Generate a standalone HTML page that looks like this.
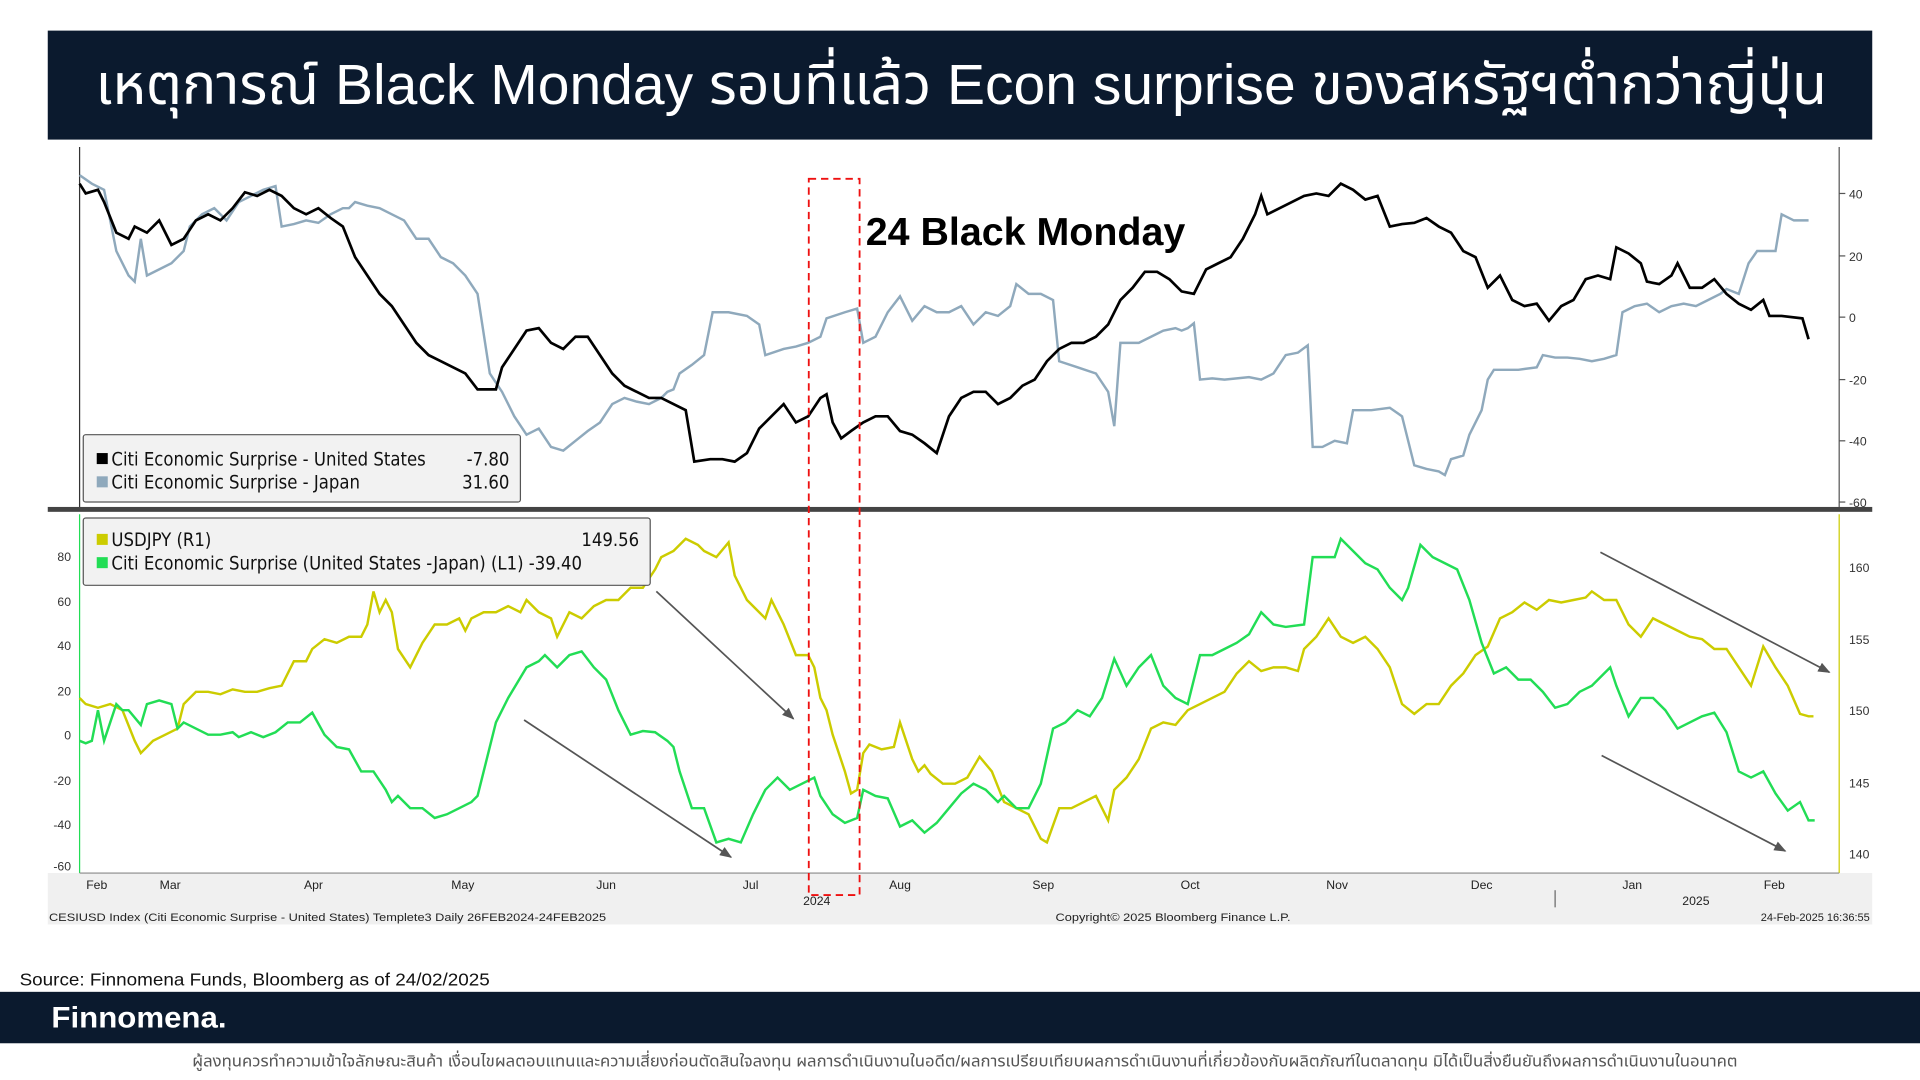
<!DOCTYPE html>
<html><head><meta charset="utf-8"><style>
html,body{margin:0;padding:0;background:#fff;width:1920px;height:1080px;overflow:hidden}
svg{display:block}
</style></head><body>
<svg width="1920" height="1080" viewBox="0 0 1568 882" xmlns="http://www.w3.org/2000/svg" font-family="Liberation Sans, DejaVu Sans, sans-serif">
<rect x="0" y="0" width="1568" height="882" fill="#fff"/>
<rect x="39" y="25" width="1490" height="89" fill="#0b1a2e"/>
<text x="78" y="85" textLength="1414" lengthAdjust="spacingAndGlyphs" fill="#fff" font-size="46" font-family="Liberation Sans, Noto Sans Thai, Loma, sans-serif">เหตุการณ์ Black Monday รอบที่แล้ว Econ surprise ของสหรัฐฯต่ำกว่าญี่ปุ่น</text>

<line x1="65" y1="120" x2="65" y2="415" stroke="#333" stroke-width="1"/>
<line x1="1502" y1="120" x2="1502" y2="415" stroke="#555" stroke-width="1"/>
<g font-size="10" fill="#333">
<text x="1510" y="162">40</text><text x="1510" y="213">20</text><text x="1510" y="263">0</text>
<text x="1510" y="314">-20</text><text x="1510" y="364">-40</text><text x="1510" y="414">-60</text>
</g>
<g stroke="#555"><line x1="1502" y1="158" x2="1507" y2="158"/><line x1="1502" y1="209" x2="1507" y2="209"/><line x1="1502" y1="259" x2="1507" y2="259"/><line x1="1502" y1="310" x2="1507" y2="310"/><line x1="1502" y1="360" x2="1507" y2="360"/><line x1="1502" y1="410" x2="1507" y2="410"/></g>
<rect x="39" y="414" width="1490" height="4" fill="#444"/>

<line x1="65" y1="420" x2="65" y2="713" stroke="#22dd55" stroke-width="1"/>
<line x1="1502" y1="420" x2="1502" y2="713" stroke="#cccc00" stroke-width="1"/>
<g font-size="10" fill="#333" text-anchor="end">
<text x="58" y="458">80</text><text x="58" y="495">60</text><text x="58" y="531">40</text><text x="58" y="568">20</text>
<text x="58" y="604">0</text><text x="58" y="641">-20</text><text x="58" y="677">-40</text><text x="58" y="711">-60</text>
</g>
<g font-size="10" fill="#333"><text x="1510" y="467">160</text><text x="1510" y="526">155</text><text x="1510" y="584">150</text><text x="1510" y="643">145</text><text x="1510" y="701">140</text></g>

<rect x="39" y="713" width="1490" height="42" fill="#f0f0f0"/>
<line x1="65" y1="713" x2="1502" y2="713" stroke="#888"/>
<g font-size="10" fill="#222" text-anchor="middle">
<text x="79" y="726">Feb</text><text x="139" y="726">Mar</text><text x="256" y="726">Apr</text><text x="378" y="726">May</text><text x="495" y="726">Jun</text><text x="613" y="726">Jul</text><text x="735" y="726">Aug</text><text x="852" y="726">Sep</text><text x="972" y="726">Oct</text><text x="1092" y="726">Nov</text><text x="1210" y="726">Dec</text><text x="1333" y="726">Jan</text><text x="1449" y="726">Feb</text>
<text x="667" y="739">2024</text><text x="1385" y="739">2025</text>
</g>
<line x1="1270" y1="727" x2="1270" y2="741" stroke="#666"/>
<g font-size="9" fill="#222">
<text x="40" y="752" textLength="455" lengthAdjust="spacingAndGlyphs">CESIUSD Index (Citi Economic Surprise - United States) Templete3  Daily 26FEB2024-24FEB2025</text>
<text x="862" y="752" textLength="192" lengthAdjust="spacingAndGlyphs">Copyright© 2025 Bloomberg Finance L.P.</text>
<text x="1527" y="752" text-anchor="end">24-Feb-2025 16:36:55</text>
</g>

<polyline fill="none" stroke="#8fa9bc" stroke-width="2" points="65,143 75,150 85,155 95,205 105,225 110,230 115,195 120,225 130,220 140,215 150,205 155,185 165,175 175,170 185,180 195,165 205,160 215,155 225,152 230,185 240,183 250,180 260,182 270,175 280,170 285,170 290,165 300,168 310,170 320,175 330,180 340,195 350,195 360,210 370,215 380,225 390,240 400,305 410,320 420,340 430,355 440,350 450,365 460,368 470,360 480,352 490,345 500,330 510,325 520,328 530,330 540,325 545,320 550,318 555,305 565,298 575,290 582,255 595,255 610,258 620,265 625,290 640,285 650,283 660,280 670,275 675,260 690,255 700,252 705,280 715,275 725,255 735,242 745,262 755,250 765,255 775,255 785,250 795,265 805,255 815,258 825,250 830,232 840,240 850,240 860,245 865,295 880,300 895,305 905,320 910,348 915,280 930,280 940,275 950,270 960,268 965,270 970,268 975,264 980,310 990,309 1000,310 1020,308 1030,310 1040,305 1050,290 1060,288 1068,282 1072,365 1080,365 1090,360 1100,362 1105,335 1120,335 1135,333 1145,340 1155,380 1165,383 1175,385 1180,388 1185,375 1195,372 1200,355 1210,335 1215,310 1220,302 1240,302 1255,300 1260,290 1270,292 1280,292 1290,293 1300,295 1310,293 1320,290 1325,255 1335,250 1345,248 1355,255 1365,250 1375,248 1385,250 1395,245 1405,240 1410,236 1420,240 1428,215 1435,205 1445,205 1450,205 1455,175 1465,180 1477,180"/>
<polyline fill="none" stroke="#000" stroke-width="2.2" points="65,150 70,158 80,155 85,165 95,190 105,195 110,185 120,190 130,180 140,200 150,195 160,180 170,175 180,180 190,170 200,157 210,160 220,155 230,160 240,170 250,175 260,170 270,178 280,185 290,210 300,225 310,240 320,250 330,265 340,280 350,290 360,295 370,300 380,305 390,318 405,318 410,300 420,285 430,270 440,268 450,280 460,285 470,275 480,275 490,290 500,305 510,315 520,320 530,325 540,325 550,330 560,335 567,377 580,375 590,375 600,377 610,370 620,350 630,340 640,330 650,345 660,340 670,325 675,322 680,345 687,358 695,352 705,345 715,340 725,340 735,352 745,355 755,362 765,370 775,340 785,325 795,320 805,320 815,330 825,325 835,315 845,310 855,295 865,285 875,280 885,280 895,275 905,265 915,245 925,235 935,222 945,222 955,228 965,238 975,240 985,220 995,215 1005,210 1015,195 1025,175 1030,160 1035,175 1045,170 1055,165 1065,160 1075,158 1085,160 1095,150 1105,155 1115,163 1125,160 1135,185 1145,183 1155,182 1165,178 1175,185 1185,190 1195,205 1205,210 1215,235 1225,225 1235,245 1245,250 1255,248 1265,262 1275,250 1285,245 1295,228 1305,225 1315,228 1320,202 1330,207 1340,215 1345,230 1355,232 1365,225 1370,215 1380,235 1390,235 1400,228 1410,240 1420,248 1430,253 1440,245 1445,258 1455,258 1472,260 1477,277"/>

<polyline fill="none" stroke="#cccc00" stroke-width="2" points="65,570 70,575 80,578 90,575 100,580 110,605 115,615 125,605 135,600 145,595 150,575 160,565 170,565 180,567 190,563 200,565 210,565 220,562 230,560 240,540 250,540 255,530 265,522 275,525 285,520 295,520 300,510 305,483 310,500 315,490 320,500 325,530 335,545 345,525 355,510 365,510 375,505 380,515 385,505 395,500 405,500 415,495 425,500 430,490 440,500 450,505 455,520 465,500 475,505 485,495 495,490 505,490 515,480 525,480 535,465 540,455 550,450 560,440 570,445 575,450 585,455 595,443 600,470 610,490 620,500 625,505 630,490 640,510 650,535 660,535 665,545 670,570 675,580 680,600 690,630 695,648 700,645 705,615 710,608 720,612 730,610 735,590 740,605 745,620 750,630 755,625 760,632 770,640 780,640 790,635 800,618 810,630 820,655 830,660 840,665 850,685 855,688 865,660 875,660 885,655 895,650 905,670 910,645 920,635 930,620 940,595 950,590 960,592 970,580 980,575 990,570 1000,565 1010,550 1020,540 1030,548 1040,545 1050,545 1060,548 1065,530 1075,520 1085,505 1095,520 1105,525 1115,520 1125,530 1135,545 1145,575 1155,583 1165,575 1175,575 1185,560 1195,550 1205,535 1215,528 1225,505 1235,500 1245,492 1255,498 1265,490 1275,492 1285,490 1295,488 1300,483 1310,490 1320,490 1330,510 1340,520 1350,505 1360,510 1370,515 1380,520 1390,522 1400,530 1410,530 1420,545 1430,560 1440,528 1450,545 1460,560 1470,583 1477,585 1481,585"/>
<polyline fill="none" stroke="#22dd55" stroke-width="2" points="65,605 70,607 75,605 80,580 85,605 90,590 95,575 100,580 105,580 115,592 120,575 130,572 140,575 145,595 150,590 160,595 170,600 180,600 190,598 195,602 205,598 215,602 225,598 235,590 245,590 255,582 265,600 275,610 285,612 295,630 305,630 315,645 320,655 325,650 335,660 345,660 355,668 365,665 375,660 385,655 390,650 395,630 405,590 415,570 430,545 440,540 445,535 455,545 465,535 475,532 485,545 495,555 505,580 515,600 525,597 535,598 545,605 550,610 555,630 565,660 575,660 585,688 595,685 605,688 615,665 625,645 635,635 645,645 655,640 665,635 670,650 680,665 690,672 700,668 705,645 715,650 725,652 735,675 745,670 755,680 765,672 775,660 785,648 795,640 805,645 815,655 820,650 830,660 840,660 850,640 860,595 870,590 880,580 890,585 900,570 910,538 920,560 930,545 940,535 950,560 960,570 970,575 980,535 990,535 1000,530 1010,525 1020,518 1030,500 1040,510 1050,512 1065,510 1072,455 1090,455 1095,440 1105,450 1115,460 1125,465 1135,480 1145,490 1150,480 1160,445 1170,455 1180,460 1190,465 1200,490 1210,525 1220,550 1230,545 1240,555 1250,555 1260,565 1270,578 1280,575 1290,565 1300,560 1310,550 1315,545 1320,560 1330,585 1340,570 1350,570 1360,580 1370,595 1380,590 1390,585 1400,582 1410,598 1420,630 1430,635 1440,630 1450,648 1460,662 1470,655 1477,670 1482,670"/>

<rect x="68" y="355" width="357" height="55" rx="2" fill="#f2f2f2" stroke="#555"/>
<rect x="79" y="370" width="9" height="9" fill="#000"/><rect x="79" y="389" width="9" height="9" fill="#8fa9bc"/>
<g font-size="15" fill="#111" font-family="DejaVu Sans Condensed, DejaVu Sans, sans-serif">
<text x="91" y="380">Citi Economic Surprise - United States</text><text x="416" y="380" text-anchor="end">-7.80</text>
<text x="91" y="399">Citi Economic Surprise - Japan</text><text x="416" y="399" text-anchor="end">31.60</text>
</g>
<rect x="68" y="423" width="463" height="55" rx="2" fill="#f2f2f2" stroke="#555"/>
<rect x="79" y="436" width="9" height="9" fill="#cccc00"/><rect x="79" y="455" width="9" height="9" fill="#22dd55"/>
<g font-size="15" fill="#111" font-family="DejaVu Sans Condensed, DejaVu Sans, sans-serif">
<text x="91" y="446">USDJPY (R1)</text><text x="522" y="446" text-anchor="end">149.56</text>
<text x="91" y="465">Citi Economic Surprise (United States -Japan) (L1) -39.40</text>
</g>

<rect x="660.5" y="146" width="41.5" height="585" fill="none" stroke="#ee1111" stroke-width="1.5" stroke-dasharray="6,4"/>
<text x="707" y="200" font-size="32" font-weight="bold" fill="#000" textLength="261" lengthAdjust="spacingAndGlyphs">24 Black Monday</text>
<defs><marker id="ah" markerWidth="10" markerHeight="8" refX="9" refY="4" orient="auto" markerUnits="userSpaceOnUse"><path d="M0,0 L10,4 L0,8 z" fill="#555"/></marker></defs>
<g stroke="#555" stroke-width="1.4" marker-end="url(#ah)">
<line x1="428" y1="588" x2="597" y2="700"/><line x1="536" y1="483" x2="648" y2="587"/>
<line x1="1308" y1="617" x2="1458" y2="695"/><line x1="1307" y1="451" x2="1494" y2="549"/>
</g>

<text x="16" y="805" font-size="14" fill="#111" textLength="384" lengthAdjust="spacingAndGlyphs">Source: Finnomena Funds, Bloomberg as of 24/02/2025</text>
<rect x="0" y="810" width="1568" height="42" fill="#0b1a2e"/>
<text x="42" y="839" font-size="24" font-weight="bold" fill="#fff" textLength="143" lengthAdjust="spacingAndGlyphs" font-family="Liberation Sans, sans-serif">Finnomena.</text>
<text x="157" y="871" textLength="1262" lengthAdjust="spacingAndGlyphs" font-size="13" fill="#555" font-family="Liberation Sans, Noto Sans Thai, Loma, sans-serif">ผู้ลงทุนควรทำความเข้าใจลักษณะสินค้า เงื่อนไขผลตอบแทนและความเสี่ยงก่อนตัดสินใจลงทุน ผลการดำเนินงานในอดีต/ผลการเปรียบเทียบผลการดำเนินงานที่เกี่ยวข้องกับผลิตภัณฑ์ในตลาดทุน มิได้เป็นสิ่งยืนยันถึงผลการดำเนินงานในอนาคต</text>
</svg>
</body></html>
